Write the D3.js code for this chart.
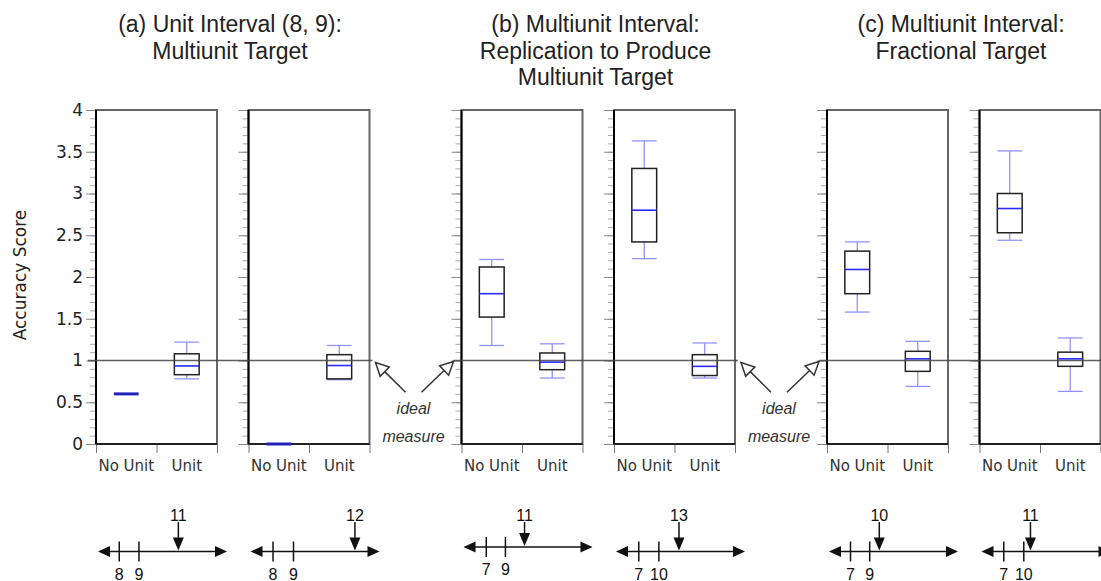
<!DOCTYPE html>
<html>
<head>
<meta charset="utf-8">
<script src="https://cdn.jsdelivr.net/npm/d3@7"></script>
<style>
  body { margin: 0; background: #fff; }
  svg { display: block; font-family: "Liberation Sans", Arial, Helvetica, sans-serif; }
  .lbl { font-family: "DejaVu Sans", Verdana, sans-serif; }
</style>
</head>
<body>
<svg width="1101" height="581"></svg>
<script>
// data
var categories = ['No Unit', 'Unit'];
var groupTitles = [
  ['(a) Unit Interval (8, 9):', 'Multiunit Target'],
  ['(b) Multiunit Interval:', 'Replication to Produce', 'Multiunit Target'],
  ['(c) Multiunit Interval:', 'Fractional Target']
];
// [min, q1, median, q3, max] per panel
var noUnitStats = [
  [0.60, 0.60, 0.60, 0.60, 0.60],
  [0.00, 0.00, 0.00, 0.00, 0.00],
  [1.18, 1.52, 1.80, 2.12, 2.21],
  [2.22, 2.42, 2.80, 3.30, 3.63],
  [1.58, 1.80, 2.09, 2.31, 2.42],
  [2.44, 2.53, 2.82, 3.00, 3.51]
];
var unitStats = [
  [0.78, 0.83, 0.935, 1.08, 1.22],
  [0.77, 0.78, 0.94, 1.07, 1.18],
  [0.79, 0.89, 0.98, 1.09, 1.20],
  [0.79, 0.82, 0.93, 1.07, 1.21],
  [0.69, 0.87, 1.02, 1.11, 1.23],
  [0.63, 0.93, 1.02, 1.10, 1.27]
];
var yTicks = [0, 0.5, 1, 1.5, 2, 2.5, 3, 3.5, 4];
var idealValue = 1;
// number lines under each panel
var lineTicks = [[8, 9], [8, 9], [7, 9], [7, 10], [7, 9], [7, 10]];
var lineTargets = [11, 12, 11, 13, 10, 11];
var lineDomains = [[6.92, 13.47], [6.9, 13.2], [4.62, 18.1], [3.6, 22.85], [4.76, 18.2], [3.66, 23]];

var svg = d3.select('svg');
var plotTop = 110, plotBottom = 444, panelW = 121;
var groupStep = 365.5, panelStep = 152.5, firstLeft = 96;

var y = d3.scaleLinear().domain([0, 4]).range([plotBottom, plotTop]);
var band = d3.scaleBand().domain(categories).range([0, panelW]);
var bx = d3.scaleLinear().domain([0, 2]).range([0, panelW]);
var boxW = band.bandwidth() * 0.41;

function panelLeft(i) {
  return firstLeft + Math.floor(i / 2) * groupStep + (i % 2) * panelStep;
}

// titles
groupTitles.forEach(function(lines, g) {
  var cx = firstLeft + g * groupStep + 134;
  var t = svg.append('text')
      .attr('text-anchor', 'middle')
      .attr('font-size', 23)
      .attr('fill', '#222');
  lines.forEach(function(l, k) {
    t.append('tspan').attr('x', cx).attr('y', 32 + k * 26.5).text(l);
  });
});

// y label
svg.append('text')
    .attr('class', 'lbl')
    .attr('transform', 'translate(26,' + ((plotTop + plotBottom) / 2 - 2) + ') rotate(-90)')
    .attr('text-anchor', 'middle')
    .attr('font-size', 17)
    .attr('fill', '#222')
    .text('Accuracy Score');

var stats = noUnitStats.map(function(d, i) { return [d, unitStats[i]]; });

stats.forEach(function(pair, i) {
  var px = panelLeft(i);
  var p = svg.append('g').attr('transform', 'translate(' + px + ',0)');

  // minor ticks
  p.append('g')
      .call(d3.axisLeft(y).tickValues(d3.range(0, 4.01, 0.1)).tickSize(6).tickFormat(''))
      .call(function(s) { s.select('.domain').remove(); s.selectAll('line').attr('stroke', '#aaa'); });
  // major ticks
  var ax = p.append('g')
      .call(d3.axisLeft(y).tickValues(yTicks).tickSize(10).tickPadding(3)
        .tickFormat(i === 0 ? d3.format('') : ''))
      .call(function(s) { s.select('.domain').remove(); s.selectAll('line').attr('stroke', '#888'); });
  ax.selectAll('text').attr('class', 'lbl').attr('font-size', 17).attr('fill', '#222').attr('font-family', null);

  // bottom ticks at band edges + labels
  p.append('g').attr('transform', 'translate(0,' + plotBottom + ')')
      .call(d3.axisBottom(bx).tickValues([0, 1, 2]).tickSize(9).tickFormat(''))
      .call(function(s) { s.select('.domain').remove(); s.selectAll('line').attr('stroke', '#777'); });
  p.append('g').attr('transform', 'translate(0,' + plotBottom + ')')
      .call(d3.axisBottom(band).tickSize(0).tickPadding(16))
      .call(function(s) { s.select('.domain').remove(); })
      .selectAll('text').attr('class', 'lbl').attr('font-size', 15).attr('fill', '#333').attr('font-family', null);

  // frame
  p.append('rect')
      .attr('x', 0).attr('y', plotTop).attr('width', panelW).attr('height', plotBottom - plotTop)
      .attr('fill', 'none').attr('stroke', '#666').attr('stroke-width', 2);
  p.append('line').attr('x1', 0).attr('x2', 0).attr('y1', plotTop).attr('y2', plotBottom)
      .attr('stroke', '#000').attr('stroke-width', 2);
  p.append('line').attr('x1', 0).attr('x2', panelW).attr('y1', plotBottom).attr('y2', plotBottom)
      .attr('stroke', '#222').attr('stroke-width', 2);

  // boxes
  pair.forEach(function(s, k) {
    var cx = band(categories[k]) + band.bandwidth() / 2;
    var b = p.append('g');
    if (s[4] > s[0]) {
      b.append('line').attr('x1', cx).attr('x2', cx).attr('y1', y(s[3])).attr('y2', y(s[4]))
          .attr('stroke', '#9393ff').attr('stroke-width', 1.3);
      b.append('line').attr('x1', cx).attr('x2', cx).attr('y1', y(s[1])).attr('y2', y(s[0]))
          .attr('stroke', '#9393ff').attr('stroke-width', 1.3);
      [s[0], s[4]].forEach(function(v) {
        b.append('line').attr('x1', cx - boxW / 2).attr('x2', cx + boxW / 2)
            .attr('y1', y(v)).attr('y2', y(v))
            .attr('stroke', '#9393ff').attr('stroke-width', 1.3);
      });
      b.append('rect')
          .attr('x', cx - boxW / 2).attr('y', y(s[3]))
          .attr('width', boxW).attr('height', y(s[1]) - y(s[3]))
          .attr('fill', 'none').attr('stroke', '#222').attr('stroke-width', 1.5);
      b.append('line').attr('x1', cx - boxW / 2).attr('x2', cx + boxW / 2)
          .attr('y1', y(s[2])).attr('y2', y(s[2]))
          .attr('stroke', '#2a2aff').attr('stroke-width', 1.6);
    } else {
      b.append('line').attr('x1', cx - boxW / 2).attr('x2', cx + boxW / 2)
          .attr('y1', y(s[2])).attr('y2', y(s[2]))
          .attr('stroke', '#2222bb').attr('stroke-width', 3);
    }
  });

  // number line
  var nl = d3.scaleLinear().domain(lineDomains[i]).range([px + 2, px + 131]);
  var ly = i === 2 ? 547 : 551.5;
  var labelY = 520.5;
  var n = svg.append('g').attr('fill', '#111').attr('stroke', '#111');
  var r = nl.range();
  n.append('line').attr('x1', r[0] + 8).attr('x2', r[1] - 8).attr('y1', ly).attr('y2', ly)
      .attr('stroke-width', 1.5);
  n.append('path').attr('d', 'M' + r[0] + ',' + ly + 'l12,-5.5v11z').attr('stroke', 'none');
  n.append('path').attr('d', 'M' + r[1] + ',' + ly + 'l-12,-5.5v11z').attr('stroke', 'none');
  lineTicks[i].forEach(function(v) {
    n.append('line').attr('x1', nl(v)).attr('x2', nl(v)).attr('y1', ly - 10).attr('y2', ly + 10)
        .attr('stroke-width', 1.5);
    n.append('text').attr('x', nl(v)).attr('y', ly + 28).attr('text-anchor', 'middle')
        .attr('stroke', 'none').attr('font-size', 16).text(v);
  });
  var tx = nl(lineTargets[i]);
  n.append('line').attr('x1', tx).attr('x2', tx).attr('y1', labelY + 1.5).attr('y2', ly - 12)
      .attr('stroke-width', 1.5);
  n.append('path').attr('d', 'M' + tx + ',' + (ly - 1) + 'l-5.5,-13h11z').attr('stroke', 'none');
  n.append('text').attr('x', tx).attr('y', labelY).attr('text-anchor', 'middle')
      .attr('stroke', 'none').attr('font-size', 16).text(lineTargets[i]);
});

// ideal lines (one per group), drawn over the frames
for (var g = 0; g < 3; g++) {
  var gl = firstLeft + g * groupStep;
  svg.append('line')
      .attr('x1', gl - 8).attr('x2', gl + panelStep + panelW + 3)
      .attr('y1', y(idealValue)).attr('y2', y(idealValue))
      .attr('stroke', '#444').attr('stroke-width', 1.6).attr('stroke-opacity', 0.85);
}

// "ideal measure" pointers between groups
function openArrow(x1, y1, x2, y2) {
  var a = Math.atan2(y2 - y1, x2 - x1), len = 13, hw = 6.5;
  var bxp = x2 - len * Math.cos(a), byp = y2 - len * Math.sin(a);
  var nx = -Math.sin(a) * hw, ny = Math.cos(a) * hw;
  svg.append('line').attr('x1', x1).attr('y1', y1).attr('x2', bxp).attr('y2', byp)
      .attr('stroke', '#333').attr('stroke-width', 1.5);
  svg.append('path')
      .attr('d', 'M' + x2 + ',' + y2 + 'L' + (bxp + nx) + ',' + (byp + ny) + 'L' + (bxp - nx) + ',' + (byp - ny) + 'Z')
      .attr('fill', '#fff').attr('stroke', '#333').attr('stroke-width', 1.5);
}
[0, 1].forEach(function(g) {
  var rightEdge = panelLeft(g * 2 + 1) + panelW;
  var nextLeft = panelLeft(g * 2 + 2);
  var m = (rightEdge + nextLeft) / 2;
  openArrow(m - 10, y(0.62), m - 40, y(idealValue) + 2);
  openArrow(m + 6, y(0.62), m + 38, y(idealValue) + 1);
  var t = svg.append('text').attr('text-anchor', 'middle').attr('font-size', 16)
      .attr('font-style', 'italic').attr('fill', '#333');
  t.append('tspan').attr('x', m - 2).attr('y', 414).text('ideal');
  t.append('tspan').attr('x', m - 2).attr('y', 442).text('measure');
});
</script>
</body>
</html>
